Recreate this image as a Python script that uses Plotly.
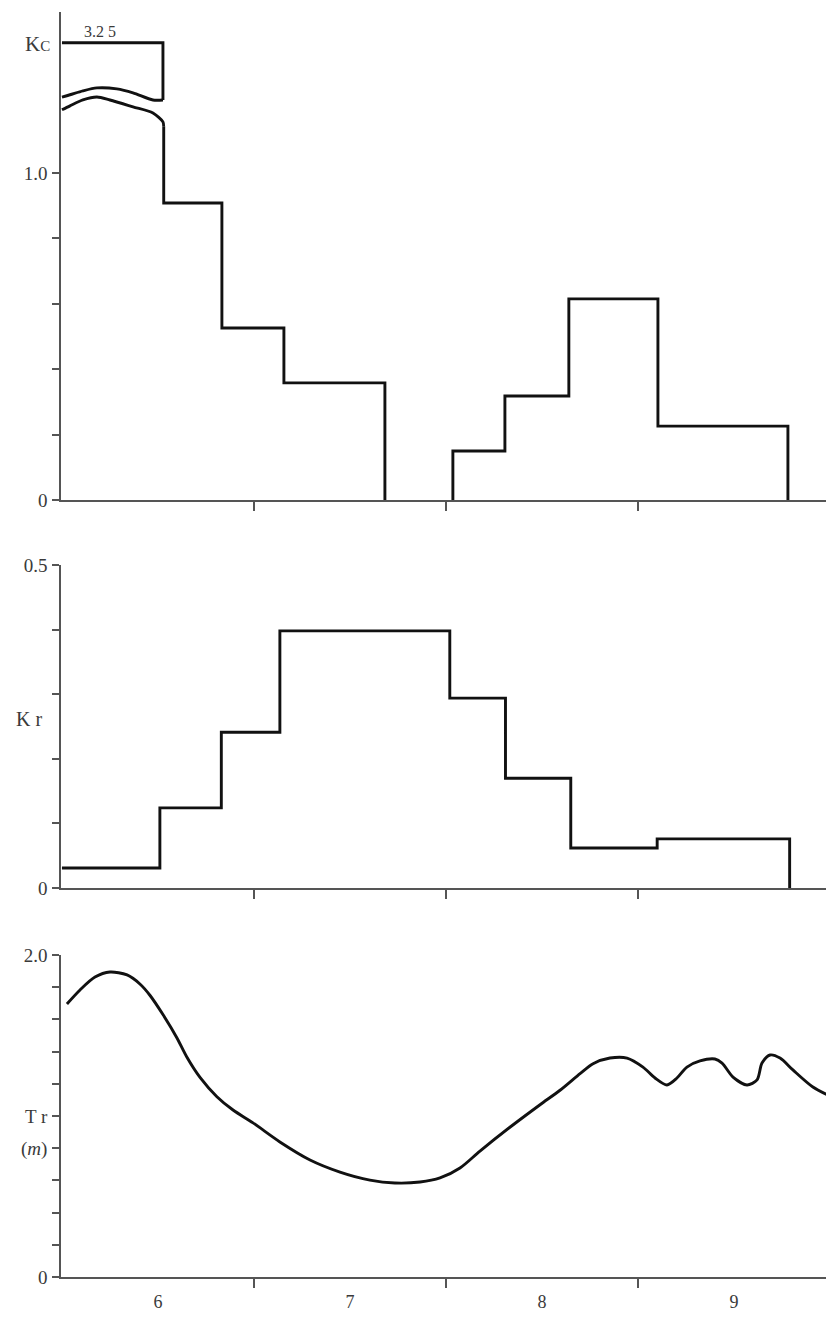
import plotly.graph_objects as go

# page body has an 8px default margin: the figure is sized to fill the rest
OFF = 8
W, H = 834 - OFF, 1317 - OFF
SERIF = "Liberation Serif, Times New Roman, serif"
INK = "#111111"
AX = "#555555"
LBL = "#3a3a3a"

# ---------------- data ----------------
# Kc panel (x in months, 6.0 = 1 June)
kc_top_x = [6.0, 6.526, 6.526]
kc_top_y = [1.398, 1.398, 1.223]          # drawn value for the 3.25 level (broken scale)
kc_top_label = "3.2 5"
kc_upper_x = [6.526, 6.474, 6.370, 6.286, 6.182, 6.109, 6.042, 6.0]
kc_upper_y = [1.223, 1.223, 1.245, 1.257, 1.260, 1.251, 1.239, 1.232]
kc_lower_x = [6.0, 6.042, 6.109, 6.182, 6.250, 6.370, 6.474, 6.526, 6.530]
kc_lower_y = [1.193, 1.205, 1.223, 1.232, 1.223, 1.202, 1.183, 1.156, 1.141]
kc_step1_x = [6.530, 6.530, 6.833, 7.156, 7.682]
kc_step1_y = [1.141, 0.908, 0.526, 0.358, 0.0]
kc_step2_x = [8.036, 8.036, 8.307, 8.640, 9.104, 9.781]
kc_step2_y = [0.0, 0.150, 0.318, 0.615, 0.226, 0.0]

# Kr panel
kr_x = [6.0, 6.51, 6.83, 7.135, 8.02, 8.31, 8.65, 9.10, 9.79]
kr_y = [0.031, 0.124, 0.241, 0.398, 0.294, 0.170, 0.062, 0.076, 0.0]

# Tr panel (m)
tr_x = [6.026, 6.094, 6.172, 6.250, 6.339, 6.406, 6.458, 6.526, 6.599, 6.651,
        6.719, 6.807, 6.891, 6.995, 7.135, 7.292, 7.448, 7.604, 7.734, 7.865,
        7.969, 8.073, 8.177, 8.333, 8.490, 8.594, 8.700, 8.766, 8.854, 8.943,
        9.026, 9.089, 9.151, 9.203, 9.255, 9.323, 9.401, 9.438, 9.495, 9.568,
        9.620, 9.646, 9.688, 9.740, 9.807, 9.911, 10.02]
tr_y = [1.696, 1.783, 1.863, 1.894, 1.876, 1.820, 1.750, 1.630, 1.485, 1.365,
        1.240, 1.120, 1.037, 0.957, 0.839, 0.727, 0.652, 0.602, 0.584, 0.590,
        0.615, 0.677, 0.782, 0.930, 1.070, 1.160, 1.265, 1.325, 1.360, 1.360,
        1.304, 1.236, 1.193, 1.236, 1.304, 1.342, 1.354, 1.329, 1.242, 1.193,
        1.224, 1.329, 1.379, 1.360, 1.286, 1.180, 1.112]

month_labels = ["6", "7", "8", "9"]
month_label_pos = [6.5, 7.5, 8.5, 9.5]
month_bounds = [7, 8, 9, 10]

kc_ticks = [0, 0.2, 0.4, 0.6, 0.8, 1.0]
kc_ticktext = ["0", "", "", "", "", "1.0"]
kr_ticks = [0, 0.1, 0.2, 0.3, 0.4, 0.5]
kr_ticktext = ["0", "", "", "", "", "0.5"]
tr_ticks = [0, 0.2, 0.4, 0.6, 0.8, 1.0, 1.2, 1.4, 1.6, 1.8, 2.0]
tr_ticktext = ["0", "", "", "", "(<i>m</i>)", "T r", "", "", "", "", "2.0"]

# ---------------- figure ----------------
fig = go.Figure()
line = dict(color=INK, width=2.9)

def add(x, y, ax, shape="linear", smoothing=None):
    l = dict(line)
    l["shape"] = shape
    if smoothing is not None:
        l["smoothing"] = smoothing
    fig.add_trace(go.Scatter(x=x, y=y, mode="lines", line=l, xaxis=ax[0], yaxis=ax[1],
                             hoverinfo="skip", showlegend=False))

add(kc_top_x, kc_top_y, ("x", "y"))
add(kc_upper_x, kc_upper_y, ("x", "y"), "spline", 0.8)
add(kc_lower_x, kc_lower_y, ("x", "y"), "spline", 0.8)
add(kc_step1_x, kc_step1_y, ("x", "y"), "hv")
add(kc_step2_x, kc_step2_y, ("x", "y"), "hv")
add(kr_x, kr_y, ("x2", "y2"), "hv")
add(tr_x, tr_y, ("x3", "y3"), "spline", 0.8)

def px(p):
    return (p - OFF) / W

def py(p):
    return 1 - (p - OFF) / H

xdom = [px(61), 1.0]
xr = [5.995, 10.021]

def xaxis(anchor, labels):
    return dict(domain=xdom, range=xr, anchor=anchor, showgrid=False, zeroline=False,
                showline=True, linecolor=AX, linewidth=1.6,
                tickvals=month_label_pos,
                ticktext=month_labels if labels else ["", "", "", ""],
                ticks="", ticklabelstandoff=8,
                tickfont=dict(family=SERIF, size=18, color=LBL),
                minor=dict(tickvals=month_bounds, ticks="outside", ticklen=9,
                           tickwidth=1.6, tickcolor=AX, showgrid=False),
                fixedrange=True)

def yaxis(anchor, dom, rng, tv, tt):
    return dict(domain=dom, range=rng, anchor=anchor, showgrid=False, zeroline=False,
                showline=True, linecolor=AX, linewidth=1.6,
                tickvals=tv, ticktext=tt, ticks="outside", ticklen=7, tickwidth=1.6,
                tickcolor=AX, tickfont=dict(family=SERIF, size=19, color=LBL),
                ticklabelstandoff=1, fixedrange=True)

def note(x, y, text, size):
    return dict(x=px(x), y=py(y), xref="paper", yref="paper", showarrow=False,
                xanchor="center", yanchor="middle", text=text,
                font=dict(family=SERIF, size=size, color=LBL))

fig.update_layout(
    width=W, height=H,
    margin=dict(l=0, r=0, t=0, b=0, autoexpand=False),
    paper_bgcolor="white", plot_bgcolor="white",
    xaxis=xaxis("y", False),
    xaxis2=xaxis("y2", False),
    xaxis3=xaxis("y3", True),
    yaxis=yaxis("x", [py(500), py(12)], [0, 1.492], kc_ticks, kc_ticktext),
    yaxis2=yaxis("x2", [py(888), py(565)], [0, 0.5], kr_ticks, kr_ticktext),
    yaxis3=yaxis("x3", [py(1277), py(955)], [0, 2.0], tr_ticks, tr_ticktext),
    annotations=[
        note(37, 44, "K<span style='font-size:15px'>C</span>", 21),
        note(100, 31, kc_top_label, 16),
        note(29, 719, "K r", 20),
    ],
)

fig.write_html("out.html")
